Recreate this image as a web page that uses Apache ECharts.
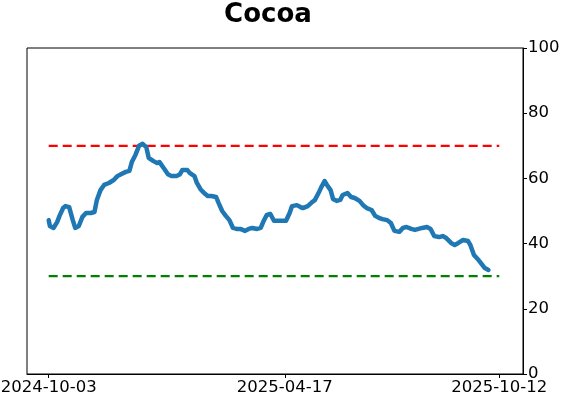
<!DOCTYPE html>
<html>
<head>
<meta charset="utf-8">
<script src="https://cdn.jsdelivr.net/npm/echarts@6/dist/echarts.min.js"></script>
<style>
  html, body { margin: 0; padding: 0; background: #fff; }
  #chart { width: 562px; height: 402px; }
</style>
</head>
<body>
<div id="chart"></div>
<script>
// days after 2024-10-03 and the values
var dayOffsets = [0, 1, 4, 7, 9, 12, 14, 17, 20, 22, 25, 28, 31, 35, 38, 40, 43, 46, 50, 54,
  57, 60, 64, 67, 69, 72, 75, 78, 81, 83, 87, 90, 92, 96, 99, 102, 106, 109, 111, 115,
  117, 121, 123, 126, 129, 132, 135, 139, 141, 144, 147, 150, 153, 156, 159, 163, 166, 169, 173, 176,
  178, 181, 184, 187, 190, 193, 197, 200, 202, 206, 209, 211, 215, 218, 221, 224, 226, 229, 231, 234,
  236, 239, 242, 244, 248, 251, 254, 258, 261, 264, 268, 271, 274, 277, 281, 284, 287, 291, 294, 297,
  301, 304, 307, 310, 314, 317, 320, 324, 327, 330, 334, 337, 340, 344, 348, 350, 353, 356, 358, 362, 365];
var values = [47.2, 45.4, 44.8, 46.6, 48.5, 50.9, 51.5, 51.2, 47.2, 44.8, 45.4, 48.2, 49.4, 49.4, 49.7, 53.4, 56.4, 58.0, 58.6, 59.5,
  60.7, 61.3, 62.0, 62.3, 65.0, 67.2, 70.0, 70.6, 69.6, 66.3, 65.3, 64.7, 65.0, 62.9, 61.3, 60.7, 60.7, 61.3, 62.6, 62.6,
  61.7, 60.7, 58.6, 56.7, 55.5, 54.6, 54.6, 54.3, 52.5, 50.0, 48.5, 47.2, 44.8, 44.5, 44.5, 43.9, 44.5, 44.8, 44.5, 44.8,
  46.6, 48.8, 49.1, 47.0, 47.0, 47.0, 47.0, 49.4, 51.5, 51.8, 51.2, 50.9, 51.5, 52.5, 53.4, 55.5, 57.1, 59.2, 58.0, 56.4,
  53.7, 53.1, 53.4, 54.9, 55.5, 54.3, 54.0, 53.1, 51.8, 50.9, 50.3, 48.5, 47.9, 47.5, 47.2, 46.3, 43.9, 43.6, 44.8, 45.1,
  44.5, 44.2, 44.5, 44.8, 45.1, 44.5, 42.3, 42.0, 42.3, 41.7, 40.2, 39.6, 40.2, 41.1, 40.8, 39.6, 36.5, 35.3, 34.4, 32.5, 31.9];

var tickDays = [0, 196, 374];
var tickLabels = ['2024-10-03', '2025-04-17', '2025-10-12'];
var upperLevel = 70;
var lowerLevel = 30;

var seriesData = dayOffsets.map(function (d, i) { return [d, values[i]]; });

var chart = echarts.init(document.getElementById('chart'));
chart.setOption({
  animation: false,
  title: {
    text: 'Cocoa',
    left: 263,
    top: -3,
    textAlign: 'center',
    textStyle: { fontFamily: 'DejaVu Sans', fontWeight: 'bold', fontSize: 26, color: '#000' }
  },
  grid: {
    left: 27, right: 39, top: 48, bottom: 28,
    outerBoundsMode: 'none',
    containLabel: false,
    show: true, borderColor: '#000', borderWidth: 1
  },
  xAxis: {
    type: 'value',
    min: -18,
    max: 393.7,
    splitLine: { show: false },
    axisLine: { show: true, onZero: false, lineStyle: { color: '#000' } },
    axisTick: { show: true, inside: false, length: 4, lineStyle: { color: '#000' }, customValues: tickDays },
    axisLabel: {
      customValues: tickDays,
      color: '#000', fontFamily: 'DejaVu Sans', fontSize: 16.5, margin: 5,
      formatter: function (v) {
        var i = tickDays.indexOf(Math.round(v));
        return i >= 0 ? tickLabels[i] : '';
      }
    }
  },
  yAxis: {
    type: 'value',
    position: 'right',
    min: 0, max: 100, interval: 20,
    splitLine: { show: false },
    axisLine: { show: true, onZero: false, lineStyle: { color: '#000' } },
    axisTick: { show: true, inside: false, length: 4, lineStyle: { color: '#000' } },
    axisLabel: { color: '#000', fontFamily: 'DejaVu Sans', fontSize: 16.5, margin: 5 }
  },
  series: [
    {
      type: 'line',
      data: [[tickDays[0], upperLevel], [tickDays[2], upperLevel]],
      showSymbol: false,
      lineStyle: { color: '#ff0000', width: 2.2, type: [9, 5] },
      z: 1
    },
    {
      type: 'line',
      data: [[tickDays[0], lowerLevel], [tickDays[2], lowerLevel]],
      showSymbol: false,
      lineStyle: { color: '#008000', width: 2.2, type: [9, 5] },
      z: 1
    },
    {
      type: 'line',
      data: seriesData,
      showSymbol: false,
      lineStyle: { color: '#1f77b4', width: 4.5, cap: 'round', join: 'round' },
      z: 2
    }
  ]
});
</script>
</body>
</html>
